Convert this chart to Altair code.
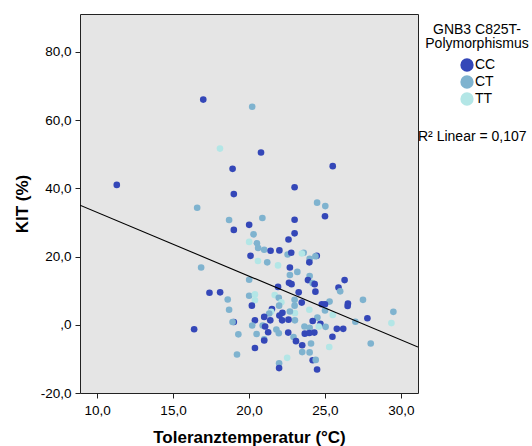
import altair as alt
import pandas as pd

# ---- data ----
temp = [16.99, 20.21, 18.09, 20.79, 18.92, 25.51, 11.30, 23.0, 19.0, 24.48, 25.02, 16.59, 25.0, 18.69, 20.88, 23.0, 19.0, 20.01, 23.0, 20.3,
        22.6, 20.01, 20.52, 20.6, 21.0, 21.42, 22.0, 22.54, 22.78, 23.6, 23.48, 24.46, 24.37, 23.99, 23.97, 20.1, 20.59, 21.2, 21.91, 16.85,
        22.69, 23.18, 22.69, 23.99, 20.01, 23.88, 26.29, 22.63, 22.8, 24.19, 24.32, 21.91, 25.89, 26.0, 24.37, 23.27, 17.4, 18.1, 20.01, 20.39,
        21.69, 21.96, 18.6, 20.39, 23.0, 27.5, 23.47, 22.13, 25.3, 24.79, 25.0, 26.51, 26.49, 20.19, 21.98, 23.0, 18.69, 23.97, 21.51, 25.0,
        21.46, 29.5, 22.2, 23.02, 22.69, 21.33, 25.51, 22.0, 21.0, 27.79, 24.5, 23.02, 20.39, 21.4, 22.18, 22.6, 24.19, 27.0, 19.0, 18.92,
        29.37, 24.7, 20.21, 20.9, 21.06, 23.65, 24.59, 25.04, 23.99, 16.39, 25.78, 26.2, 21.8, 21.26, 22.58, 21.96, 23.67, 23.97, 24.3, 19.3,
        20.5, 22.93, 25.49, 23.09, 21.0, 21.0, 28.01, 24.08, 23.5, 20.39, 25.28, 23.5, 23.99, 19.21, 22.51, 24.19, 24.39, 21.98, 21.98, 24.48]

kit = [66.0, 63.9, 51.65, 50.5, 45.7, 46.5, 41.0, 40.3, 38.3, 35.8, 34.8, 34.3, 31.8, 30.7, 31.3, 30.8, 27.8, 29.3, 26.8, 26.5,
       25.0, 24.3, 23.9, 22.5, 22.0, 21.7, 21.8, 20.6, 21.1, 21.1, 20.9, 20.2, 20.1, 19.3, 18.3, 20.2, 18.7, 18.3, 17.4, 16.8,
       16.8, 15.5, 14.6, 14.3, 13.2, 13.1, 13.1, 12.3, 11.9, 12.2, 11.9, 11.1, 10.9, 9.8, 9.7, 9.5, 9.4, 9.5, 8.5, 8.9,
       8.7, 7.9, 7.4, 7.2, 7.3, 7.3, 6.5, 6.6, 6.8, 6.0, 6.0, 6.2, 5.5, 5.6, 5.6, 5.6, 4.4, 4.4, 4.6, 4.2,
       3.8, 3.8, 3.5, 3.4, 3.9, 3.3, 2.9, 2.7, 2.3, 1.9, 2.1, 1.3, 1.3, 1.3, 1.3, 1.5, 1.1, 0.9, 0.8, 0.8,
       0.5, 0.3, -0.2, -0.2, -0.5, -0.5, -0.5, -0.6, -0.9, -1.3, -1.2, -1.2, -1.4, -2.2, -2.3, -2.5, -2.6, -2.4, -2.3, -2.8,
       -2.7, -3.6, -3.5, -4.8, -4.3, -4.6, -5.5, -5.5, -6.0, -6.8, -6.5, -8.0, -8.1, -8.7, -9.7, -10.4, -10.3, -11.3, -12.7, -13.1]

genotype = ["CC", "CT", "TT", "CC", "CC", "CC", "CC", "CC", "CC", "CT", "CT", "CT", "CC", "CT", "CT", "CC", "CC", "CC", "CC", "CT",
            "CC", "TT", "CT", "CT", "CT", "CC", "CC", "CT", "CC", "CT", "TT", "CC", "CT", "CT", "CC", "CC", "TT", "CT", "TT", "CT",
            "CC", "CT", "CT", "CT", "CT", "CC", "CC", "CC", "CC", "CT", "CC", "CC", "CC", "CT", "CC", "CC", "CC", "CC", "CT", "TT",
            "TT", "CT", "CT", "TT", "CT", "CT", "CC", "TT", "CT", "CC", "CC", "CC", "CC", "CC", "CT", "CT", "CT", "TT", "CC", "CT",
            "TT", "CT", "CC", "TT", "CT", "CT", "TT", "CC", "CC", "CC", "CT", "CT", "CC", "CC", "CC", "CC", "CC", "CT", "CC", "CT",
            "TT", "CC", "CT", "CT", "CC", "CT", "TT", "CT", "CT", "CC", "CC", "CC", "CT", "CC", "CC", "CT", "CC", "CC", "CC", "CT",
            "CT", "CT", "CC", "CC", "CT", "CC", "CT", "CT", "CC", "CC", "TT", "CT", "CT", "CT", "TT", "CC", "CT", "CT", "CC", "CC"]

categories = ["CC", "CT", "TT"]
colors = ["#3447b8", "#7fb3cf", "#b3e6e6"]

x_ticks = [10, 15, 20, 25, 30]
x_labels = ["10,0", "15,0", "20,0", "25,0", "30,0"]
y_ticks = [-20, 0, 20, 40, 60, 80]
y_labels = ["-20,0", ",0", "20,0", "40,0", "60,0", "80,0"]
x_domain = [8.88, 31.12]
y_domain = [-20, 91.1]

fit_intercept = 51.65
fit_slope = -1.869

x_title = "Toleranztemperatur (°C)"
y_title = "KIT (%)"
legend_title = ["GNB3 C825T-", "Polymorphismus"]
r2_text = "R²  Linear = 0,107"

# ---- layout ----
W, H = 338, 379
PL, PT = 80, 14
FONT = "Liberation Sans"


def label_expr(ticks, labels):
    expr = "''"
    for t, l in reversed(list(zip(ticks, labels))):
        expr = f"datum.value == {t} ? '{l}' : ({expr})"
    return expr


df = pd.DataFrame({"temp": temp, "kit": kit, "genotype": genotype})
line_df = pd.DataFrame({"temp": x_domain,
                        "kit": [fit_intercept + fit_slope * v for v in x_domain]})

xscale = alt.Scale(domain=x_domain, nice=False, zero=False)
yscale = alt.Scale(domain=y_domain, nice=False, zero=False)

xaxis = alt.Axis(values=x_ticks, labelExpr=label_expr(x_ticks, x_labels), title=x_title,
                 titleX=W / 2, titleY=49.5, titleBaseline="alphabetic", titleAlign="center",
                 labelPadding=5, grid=False)
yaxis = alt.Axis(values=y_ticks, labelExpr=label_expr(y_ticks, y_labels), title=y_title,
                 titleX=-53, titleY=H / 2, titleBaseline="alphabetic", titleAlign="center",
                 labelPadding=4, grid=False)

points = alt.Chart(df).mark_circle(size=44, opacity=1).encode(
    x=alt.X("temp:Q", scale=xscale, axis=xaxis),
    y=alt.Y("kit:Q", scale=yscale, axis=yaxis),
    color=alt.Color("genotype:N", scale=alt.Scale(domain=categories, range=colors),
                    legend=alt.Legend(title=None, orient="none", legendX=380, legendY=44,
                                      padding=0, symbolType="circle", symbolSize=177,
                                      symbolStrokeWidth=0, labelFont=FONT, labelFontSize=14,
                                      labelColor="black", labelOffset=1, rowPadding=3)),
)

fit = alt.Chart(line_df).mark_line(color="black", strokeWidth=1.1, clip=True).encode(
    x=alt.X("temp:Q", scale=xscale),
    y=alt.Y("kit:Q", scale=yscale),
)

one = pd.DataFrame({"a": [0]})
ltitle = alt.Chart(one).mark_text(font=FONT, fontSize=14, align="center", baseline="alphabetic",
                                  lineHeight=14.5, color="black").encode(
    x=alt.value(397), y=alt.value(19.5), text=alt.value(legend_title))
r2 = alt.Chart(one).mark_text(font=FONT, fontSize=14, align="left", baseline="alphabetic",
                              color="black").encode(
    x=alt.value(338), y=alt.value(127), text=alt.value(r2_text))

chart = alt.layer(points, fit, ltitle, r2).properties(
    width=W, height=H,
    autosize=alt.AutoSizeParams(type="none"),
    padding={"left": PL, "top": PT, "right": 532 - PL - W, "bottom": 446 - PT - H},
).configure_view(
    fill="#e5e5e5", stroke="#222222", strokeWidth=1
).configure_axis(
    domain=False, tickColor="#222222", tickSize=5, tickWidth=1,
    labelFont=FONT, labelFontSize=13.5, labelColor="black",
    titleFont=FONT, titleFontSize=17, titleFontWeight="bold", titleColor="black"
)

chart.save("out.html", embed_options={"renderer": "svg", "actions": False})
